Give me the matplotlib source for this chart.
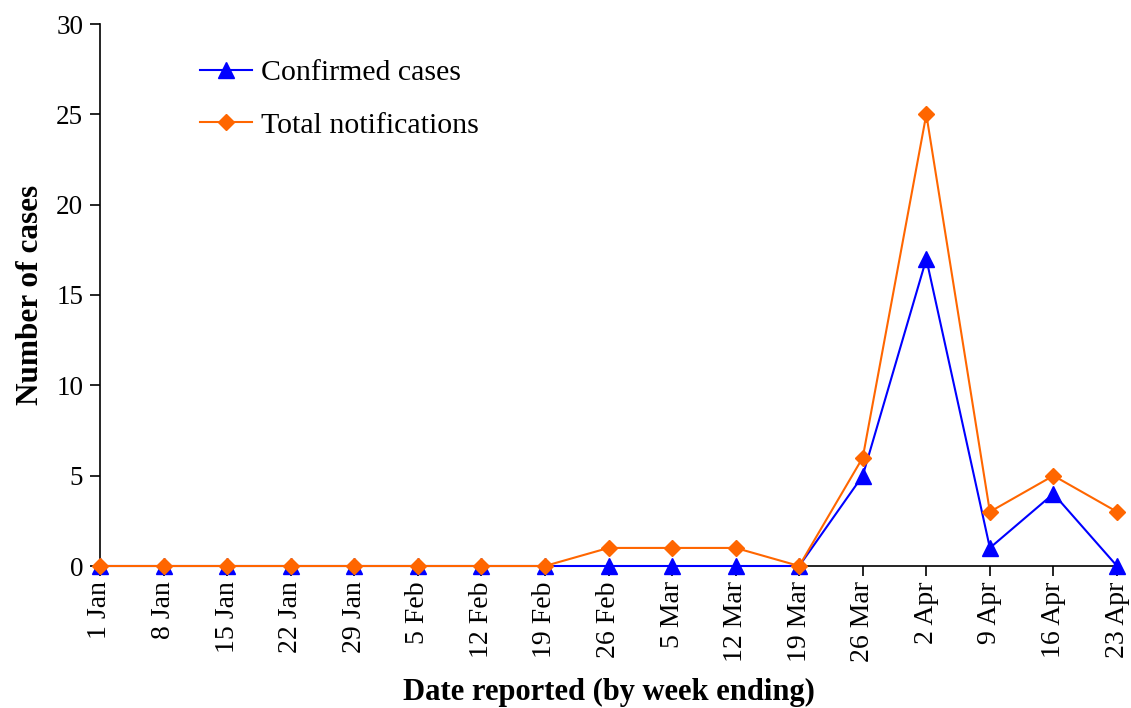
import matplotlib
matplotlib.use("Agg")
import matplotlib.pyplot as plt

weeks = ["1 Jan", "8 Jan", "15 Jan", "22 Jan", "29 Jan", "5 Feb", "12 Feb", "19 Feb",
         "26 Feb", "5 Mar", "12 Mar", "19 Mar", "26 Mar", "2 Apr", "9 Apr", "16 Apr", "23 Apr"]
confirmed = [0, 0, 0, 0, 0, 0, 0, 0, 0, 0, 0, 0, 5, 17, 1, 4, 0]
total = [0, 0, 0, 0, 0, 0, 0, 0, 1, 1, 1, 0, 6, 25, 3, 5, 3]

plt.rcParams['font.family'] = ['Liberation Serif', 'DejaVu Serif']

fig = plt.figure(figsize=(11.31, 7.08), dpi=100)
ax = fig.add_axes([100/1131, 1-566/708, (1117-100)/1131, (566-24)/708])

x = list(range(len(weeks)))
ax.plot(x, confirmed, color='#0000FF', lw=1.5, marker='^', ms=11, label='Confirmed cases',
        clip_on=False, zorder=3)
ax.plot(x, total, color='#FF6600', lw=1.5, marker='D', ms=8.5, label='Total notifications',
        clip_on=False, zorder=4)

ax.set_xlim(0, len(weeks)-1)
ax.set_ylim(0, 30)
ax.set_yticks(range(0, 31, 5))
ax.set_xticks(x)
ax.set_xticklabels(weeks, rotation=90, fontsize=20)
ax.tick_params(axis='y', labelsize=19.5, length=7, width=1.2, direction='out', pad=5)
ax.tick_params(axis='x', length=7, width=1.2, direction='out', pad=4)
for s in ['top', 'right']:
    ax.spines[s].set_visible(False)
for s in ['left', 'bottom']:
    ax.spines[s].set_linewidth(1.2)

ax.set_ylabel('Number of cases', fontsize=22.5, fontweight='bold', labelpad=8)
ax.set_xlabel('Date reported (by week ending)', fontsize=22, fontweight='bold', labelpad=11)

ax.legend(loc='upper left', bbox_to_anchor=(0.078, 0.973), frameon=False, fontsize=21.5,
          handlelength=1.75, handletextpad=0.3, labelspacing=0.85, borderpad=0.2)

fig.savefig('out.png', dpi=100)
